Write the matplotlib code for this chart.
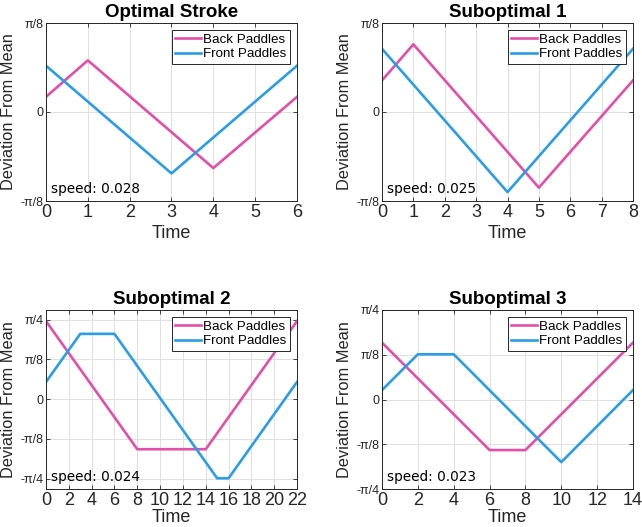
import numpy as np
import matplotlib
matplotlib.use("Agg")
import matplotlib.pyplot as plt

# values in units of pi/8
opt_t_back = [0, 1, 4, 6]
opt_back = [0.17, 0.58, -0.63, 0.17]
opt_t_front = [0, 3, 6]
opt_front = [0.52, -0.69, 0.52]

sub1_t_back = [0, 1, 5, 8]
sub1_back = [0.355, 0.76, -0.85, 0.355]
sub1_t_front = [0, 4, 8]
sub1_front = [0.71, -0.90, 0.71]

sub2_t_back = [0, 8, 14, 22]
sub2_back = [1.96, -1.26, -1.26, 1.96]
sub2_t_front = [0, 3, 6, 15, 16, 22]
sub2_front = [0.43, 1.64, 1.64, -1.99, -1.99, 0.43]

sub3_t_back = [0, 6, 8, 14]
sub3_back = [1.27, -1.13, -1.13, 1.27]
sub3_t_front = [0, 2, 4, 10, 14]
sub3_front = [0.21, 1.01, 1.01, -1.40, 0.21]

titles = ["Optimal Stroke", "Suboptimal 1", "Suboptimal 2", "Suboptimal 3"]
speeds = ["0.028", "0.025", "0.024", "0.023"]

PINK = "#E34FA8"
BLUE = "#2B9DE6"
DARK = "#262626"
U = np.pi / 8

plt.rcParams['font.family'] = ['Liberation Sans', 'DejaVu Sans']

fig = plt.figure(figsize=(6.42, 5.27), dpi=100)
W, H = 642, 527


def box(l, r, t, b):
    return [l / W, 1 - b / H, (r - l) / W, (b - t) / H]


panels = [
    (box(46, 297, 23, 201), opt_t_back, opt_back, opt_t_front, opt_front,
     6, 1, (-1, 1), [-1, 0, 1], ["-π/8", "0", "π/8"]),
    (box(382, 633, 23, 201), sub1_t_back, sub1_back, sub1_t_front, sub1_front,
     8, 1, (-1, 1), [-1, 0, 1], ["-π/8", "0", "π/8"]),
    (box(46, 297, 310, 489), sub2_t_back, sub2_back, sub2_t_front, sub2_front,
     22, 2, (-2.26, 2.24), [-2, -1, 0, 1, 2], ["-π/4", "-π/8", "0", "π/8", "π/4"]),
    (box(382, 633, 310, 489), sub3_t_back, sub3_back, sub3_t_front, sub3_front,
     14, 2, (-2, 2), [-2, -1, 0, 1, 2], ["-π/4", "-π/8", "0", "π/8", "π/4"]),
]

for i, (pos, tb, yb, tf, yf, tmax, tstep, ylim, yt, ytl) in enumerate(panels):
    ax = fig.add_axes(pos)
    ax.plot(tb, np.array(yb) * U, color=PINK, lw=1.9, label="Back Paddles")
    ax.plot(tf, np.array(yf) * U, color=BLUE, lw=1.9, label="Front Paddles")
    ax.set_xlim(0, tmax)
    ax.set_ylim(ylim[0] * U, ylim[1] * U)
    ax.set_xticks(np.arange(0, tmax + 1, tstep))
    ax.set_yticks(np.array(yt) * U)
    ax.set_yticklabels(ytl, fontsize=9, color=DARK)
    ax.tick_params(axis='x', labelsize=13, colors=DARK, pad=2)
    ax.tick_params(axis='y', colors=DARK, pad=2)
    ax.tick_params(direction='in', length=3, top=True, right=True, width=0.6)
    ax.grid(True, color="#e0e0e0", lw=0.7)
    for s in ax.spines.values():
        s.set_color(DARK)
        s.set_linewidth(0.7)
    ax.set_title(titles[i], fontsize=13.5, fontweight='bold', pad=4)
    ax.set_xlabel("Time", fontsize=13, color=DARK, labelpad=3 if i < 2 else 0)
    ax.set_ylabel("Deviation From Mean", fontsize=11.8, color=DARK, labelpad=3)
    ax.text(0.02, 0.045, "speed: " + speeds[i], transform=ax.transAxes,
            fontsize=9.8, family="DejaVu Sans")
    leg = ax.legend(loc="upper right", fontsize=9.6, fancybox=False,
                    borderpad=0.25, labelspacing=0.15, handlelength=1.95,
                    handletextpad=0.12, borderaxespad=0.55, framealpha=1)
    leg.get_frame().set_edgecolor(DARK)
    leg.get_frame().set_linewidth(0.7)

fig.savefig("out.png", dpi=100)
